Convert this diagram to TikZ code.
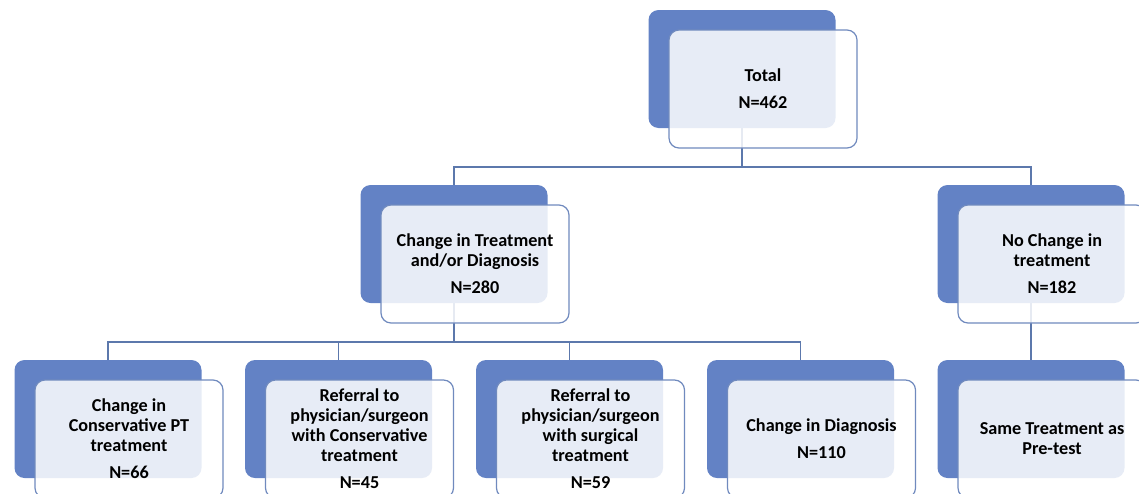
\documentclass[tikz,border=0pt]{standalone}
\usepackage{fontspec}
\setmainfont{Carlito}
\usetikzlibrary{backgrounds}
\definecolor{boxblue}{RGB}{99,130,197}
\definecolor{edgeblue}{RGB}{112,138,190}
\definecolor{linkblue}{RGB}{92,120,172}

\begin{document}
\begin{tikzpicture}[x=0.5pt,y=-0.5pt,
  back/.style={draw=none,fill=boxblue,rounded corners=5pt,
    minimum width=93.5pt,minimum height=59pt},
  front/.style={draw=edgeblue,line width=0.6pt,fill=white,fill opacity=0.85,
    text opacity=1,rounded corners=5pt,minimum width=94pt,minimum height=59pt,
    align=center,font=\fontsize{9.1}{10}\selectfont\bfseries},
  link/.style={draw=linkblue,line width=0.75pt}]
  \useasboundingbox (0,0) rectangle (1139,493);
  \clip (0,0) rectangle (1139,493);

  % back boxes
  \node[back] (total) at (742,69) {};
  \node[back] (cti) at (454,244) {};
  \node[back] (nct) at (1031,244) {};
  \node[back] (ccp) at (108,419) {};
  \node[back] (rcons) at (338.5,419) {};
  \node[back] (rsurg) at (569.5,419) {};
  \node[back] (cdiag) at (800.5,419) {};
  \node[back] (same) at (1031,419) {};

  % front boxes
  \node[front] (totalF) at (763,89) {Total\\[3.5pt]N=462};
  \node[front] (ctiF) at (475,264) {Change in Treatment\\and/or Diagnosis\\[3.5pt]N=280};
  \node[front] (nctF) at (1052,264) {No Change in\\treatment\\[3.5pt]N=182};
  \node[front] (ccpF) at (129,439) {Change in\\Conservative PT\\treatment\\[3.5pt]N=66};
  \node[front] (rconsF) at (359.5,439) {Referral to\\physician/surgeon\\with Conservative\\treatment\\[3.5pt]N=45};
  \node[front] (rsurgF) at (590.5,439) {Referral to\\physician/surgeon\\with surgical\\treatment\\[3.5pt]N=59};
  \node[front] (cdiagF) at (821.5,439) {Change in Diagnosis\\[3.5pt]N=110};
  \node[front] (sameF) at (1052,439) {Same Treatment as\\Pre-test};

  % connectors
  \coordinate (busA) at (742,167);
  \coordinate (busB) at (454,342);
  \begin{scope}[on background layer]
    \draw[link] (total.south) -- (busA) -| (cti.north);
    \draw[link] (busA) -| (nct.north);
    \draw[link] (cti.south) -- (busB) -| (ccp.north);
    \draw[link] (busB) -| (rcons.north);
    \draw[link] (busB) -| (rsurg.north);
    \draw[link] (busB) -| (cdiag.north);
    \draw[link] (nct.south) -- (same.north);
  \end{scope}
\end{tikzpicture}
\end{document}
